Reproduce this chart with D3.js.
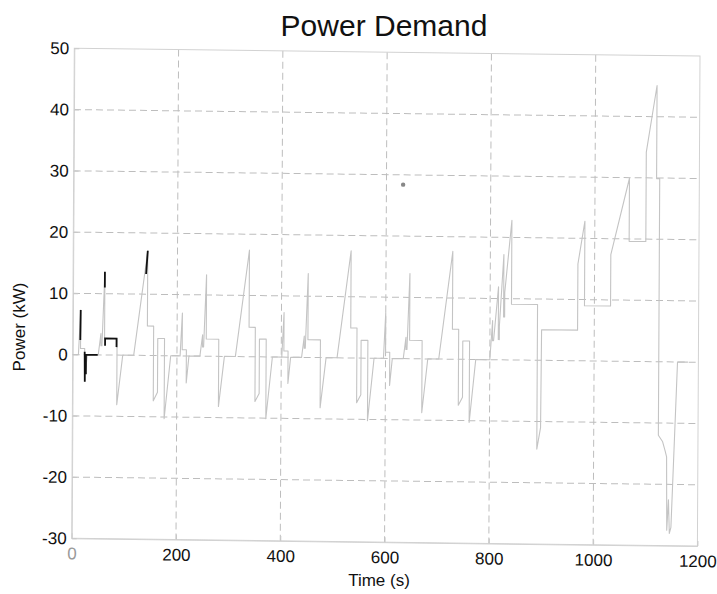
<!DOCTYPE html>
<html><head><meta charset="utf-8">
<script src="https://cdn.jsdelivr.net/npm/d3@7"></script>
<style>
html,body{margin:0;padding:0;background:#fff;}
svg{display:block;font-family:"Liberation Sans",Arial,Helvetica,sans-serif;}
</style></head><body>
<svg id="chart" width="717" height="594"></svg>
<script>
const title = "Power Demand";
const xLabel = "Time (s)";
const yLabel = "Power (kW)";
const xTicks = [0, 200, 400, 600, 800, 1000, 1200];
const yTicks = [-30, -20, -10, 0, 10, 20, 30, 40, 50];

// Power demand trace (s, kW)
const time = [
  0,11,15,15,23,23,28,49,54,54,56,61,61,85,85,96,117,143,143,155,155,163,163,176,176,188,
  195,206,210,210,218,218,223,244,249,249,251,256,256,280,280,291,312,338,338,350,350,358,358,371,371,383,
  390,401,405,405,413,413,418,439,444,444,446,451,451,475,475,486,507,533,533,545,545,553,553,566,566,578,
  585,596,600,600,608,608,613,634,639,639,641,646,646,670,670,681,702,728,728,740,740,748,748,761,761,773,
  800,805,805,807,816,816,818,818,826,826,828,828,841,841,891,891,898,899,968,968,981,981,1031,1031,1066,1066,
  1098,1098,1118,1118,1124,1124,1132,1137,1140,1141,1144,1146,1149,1160,1180
];
const power = [
  0,0,7.3,1.0,1.0,-4.3,0,0,3.5,1.5,1.5,13.5,2.7,2.7,-8.1,0,0,17.1,4.8,4.8,-7.4,-6.0,2.8,2.8,-10.3,0,
  0,0,7.0,1.0,1.0,-4.4,0,0,3.5,1.5,1.5,13.3,2.8,2.8,-8.2,0,0,17.4,4.8,4.8,-7.3,-6.0,2.9,2.9,-10.1,0,
  0,0,7.3,1.0,1.0,-4.3,0,0,3.5,1.5,1.5,13.7,2.9,2.9,-8.2,0,0,17.5,4.9,4.9,-7.3,-6.0,2.9,2.9,-10.2,0,
  0,0,7.5,1.0,1.0,-4.4,0,0,3.5,1.5,1.5,13.9,3.0,3.0,-8.8,0,0,17.6,4.9,4.9,-7.5,-6.2,3.0,3.0,-10.3,0,
  0,6.4,3.1,3.1,11.9,3.3,3.3,5.5,17.2,7.0,7.0,11.0,22.8,9.1,9.1,-14.5,-11.0,5.0,5.0,15.8,22.8,9.0,9.0,17.4,29.9,19.6,
  19.6,34.2,45.1,29.9,29.9,-12.0,-13.0,-14.5,-15.5,-27.5,-22.5,-28.0,-27.0,0,0
];

// darker ink strokes in the first cycle (NaN separates strokes)
const inkTime  = [14.5,15, NaN, 23,23.5, NaN, 25.5,25.5,48, NaN, 61,61, NaN, 62,62,84,84, NaN, 140,143];
const inkPower = [2.4,7.3, NaN, 0.5,-4.4, NaN, -3.2,0,0, NaN, 11.0,13.6, NaN, 1.5,2.7,2.7,1.3, NaN, 13.3,17.1];

const speck = [632, 28.4];

const W = 625.7, H = 490;
const svg = d3.select("#chart");

const x = d3.scaleLinear().domain([0, 1200]).range([0, W]);
const y = d3.scaleLinear().domain([-30, 50]).range([H, 0]);

// slight tilt of the scanned page
const g = svg.append("g").attr("transform", "matrix(1,0.0123,-0.0053,1,74.3,48.3)");

// grid
g.append("g").selectAll("line").data(yTicks.filter(v => v > -30 && v < 50)).join("line")
  .attr("x1", 0).attr("x2", W).attr("y1", d => y(d)).attr("y2", d => y(d))
  .attr("stroke", "#bdbdbd").attr("stroke-width", 1).attr("stroke-dasharray", "7,4");
g.append("g").selectAll("line").data(xTicks.filter(v => v > 0 && v < 1200)).join("line")
  .attr("y1", 0).attr("y2", H).attr("x1", d => x(d)).attr("x2", d => x(d))
  .attr("stroke", "#bdbdbd").attr("stroke-width", 1).attr("stroke-dasharray", "7,4");

// box
g.append("rect").attr("x", 0).attr("y", 0).attr("width", W).attr("height", H)
  .attr("fill", "none").attr("stroke", "#d2d2d2").attr("stroke-width", 1);

// axes
const fmt = d => String(d);
const ax = g.append("g").attr("transform", `translate(0,${H})`)
  .call(d3.axisBottom(x).tickValues(xTicks).tickFormat(fmt).tickSizeInner(-5).tickSizeOuter(0).tickPadding(9));
const ay = g.append("g")
  .call(d3.axisLeft(y).tickValues(yTicks).tickFormat(fmt).tickSizeInner(-5).tickSizeOuter(0).tickPadding(5));
[ax, ay].forEach(a => {
  a.select(".domain").attr("stroke", "#d2d2d2");
  a.selectAll(".tick line").attr("stroke", "#c8c8c8");
  a.selectAll(".tick text").attr("font-size", 17).attr("fill", "#111")
    .attr("font-family", '"Liberation Sans",Arial,sans-serif');
});
ax.selectAll(".tick text").filter(d => d === 0).attr("fill", "#9a9a9a");

// data line
const pts = time.map((t, i) => ({t, p: power[i]}));
const line = d3.line().x(d => x(d.t)).y(d => y(d.p)).defined(d => !isNaN(d.p));
g.append("path").datum(pts).attr("d", line)
  .attr("fill", "none").attr("stroke", "#c4c4c4").attr("stroke-width", 1.1)
  .attr("stroke-linejoin", "round");

const ink = inkTime.map((t, i) => ({t, p: inkPower[i]}));
g.append("path").datum(ink).attr("d", line)
  .attr("fill", "none").attr("stroke", "#111").attr("stroke-width", 1.8);

g.append("circle").attr("cx", x(speck[0])).attr("cy", y(speck[1])).attr("r", 2.2).attr("fill", "#888");

// titles
svg.append("text").attr("x", 384).attr("y", 36).attr("text-anchor", "middle")
  .attr("font-size", 30).attr("fill", "#111").text(title);
svg.append("text").attr("x", 379).attr("y", 586).attr("text-anchor", "middle")
  .attr("font-size", 17).attr("fill", "#111").text(xLabel);
svg.append("text").attr("transform", "translate(25,327) rotate(-90)").attr("text-anchor", "middle")
  .attr("font-size", 17).attr("fill", "#111").text(yLabel);
</script>
</body></html>
